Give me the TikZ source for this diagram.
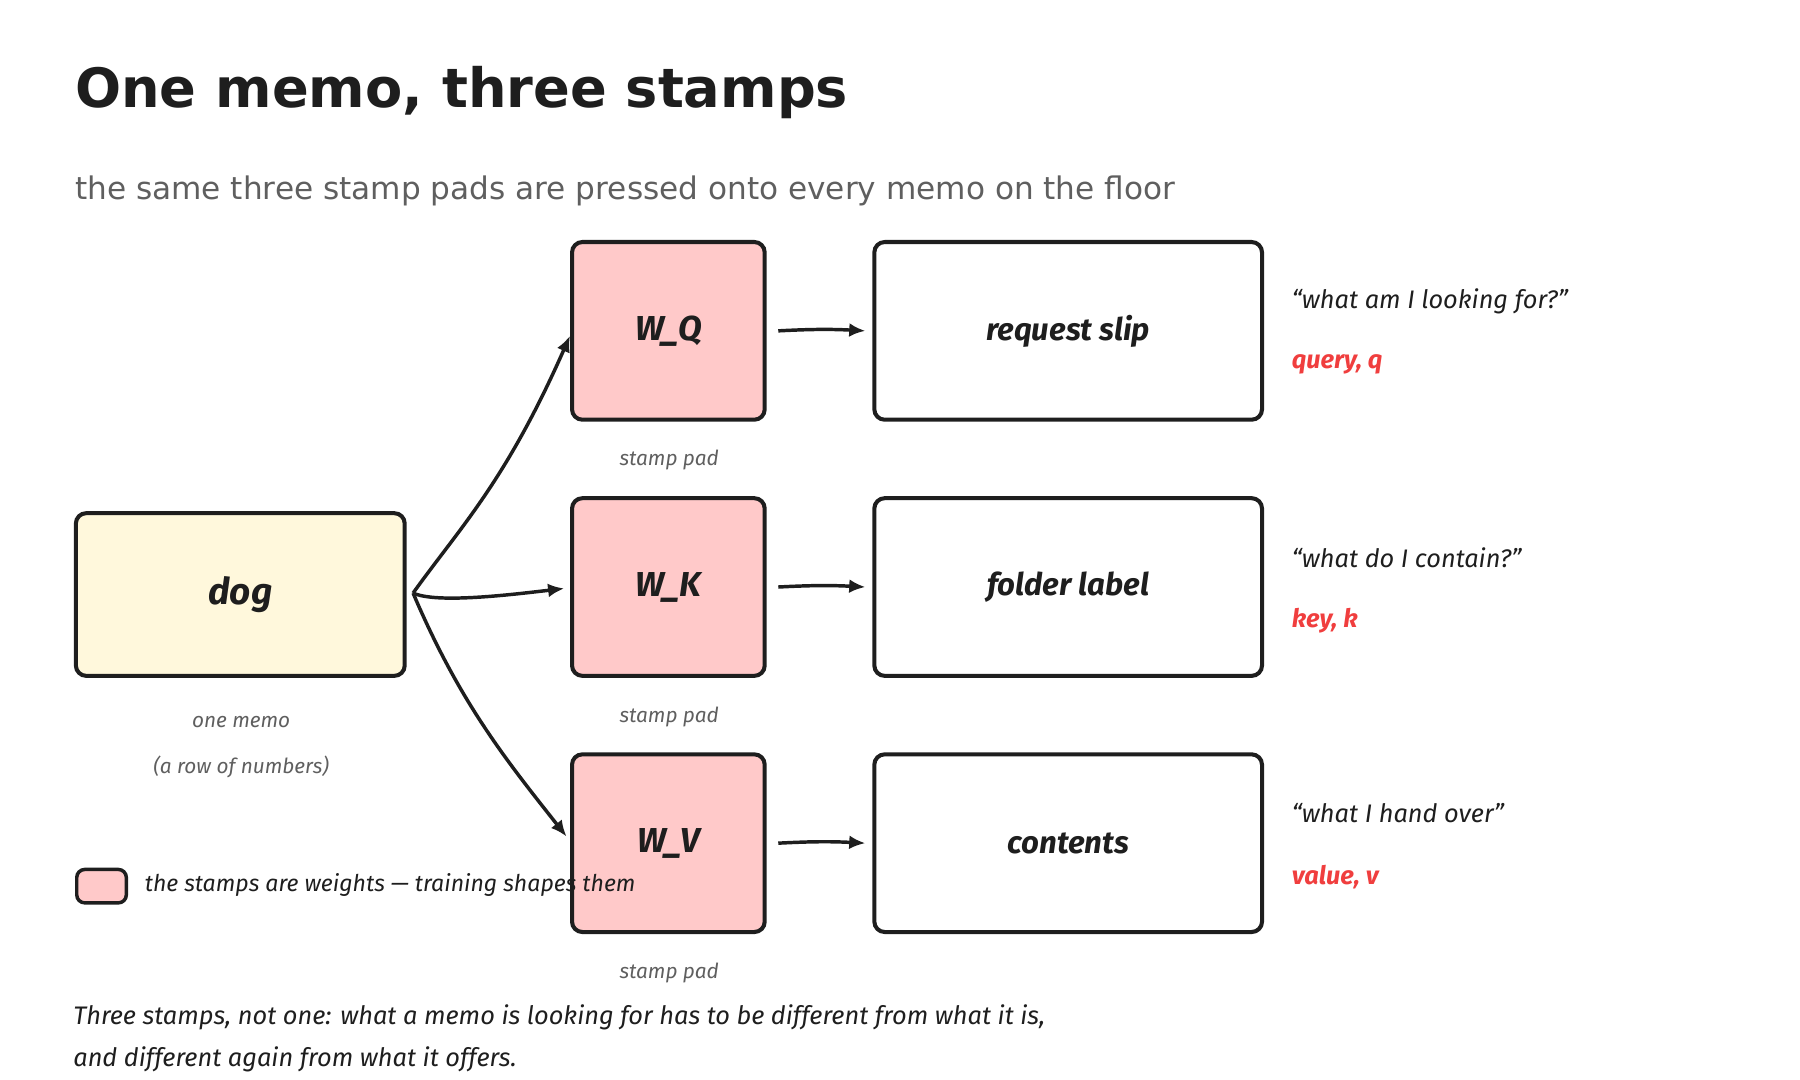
\documentclass[tikz,border=0pt]{standalone}
\usepackage{fontspec}
\setmainfont{DejaVu Sans}
\newfontfamily\hand{Fira Sans}
\usetikzlibrary{arrows.meta}
\definecolor{ink}{HTML}{1E1E1E}
\definecolor{memo}{HTML}{FFF8DC}
\definecolor{pad}{HTML}{FFC9C9}
\definecolor{redl}{HTML}{F03E3E}
\definecolor{grayt}{HTML}{5F5F5F}
\tikzset{
 box/.style={draw=ink,line width=3.5pt,rounded corners=9pt,anchor=north west,inner sep=0pt},
 lab/.style={font=\hand\bfseries\itshape\fontsize{27}{30}\selectfont,text=ink},
 small/.style={font=\hand\itshape\fontsize{18}{22}\selectfont,text=grayt},
 note/.style={font=\hand\itshape\fontsize{22}{26}\selectfont,text=ink,anchor=west},
 red/.style={font=\hand\bfseries\itshape\fontsize{22}{26}\selectfont,text=redl,anchor=west},
 arr/.style={draw=ink,line width=3pt,-{Latex[length=14pt,width=12pt]}}
}
\begin{document}
\begin{tikzpicture}[x=1pt,y=-1pt]
\useasboundingbox (0,0) rectangle (1560,936);
\node[anchor=base west,font=\bfseries\fontsize{47}{56}\selectfont,text=ink,inner sep=0pt] (title) at (65,93) {One memo, three stamps};
\node[anchor=base west,font=\fontsize{27}{30}\selectfont,text=grayt,inner sep=0pt] (sub) at (65,173) {the same three stamp pads are pressed onto every memo on the floor};

\node[box,fill=memo,minimum width=285pt,minimum height=141pt] (dog) at (64,443) {};
\node[lab,font=\hand\bfseries\itshape\fontsize{32}{36}\selectfont] at (dog.center) {dog};
\node[small] (m1) at (209,626) {one memo};
\node[small] (m2) at (209,665) {(a row of numbers)};

\foreach \n/\y/\w/\o/\q/\r in {q/209/W\_Q/request slip/“what am I looking for?”/{query, q},
  k/431/W\_K/folder label/“what do I contain?”/{key, k},
  v/653/W\_V/contents/“what I hand over”/{value, v}}{
  \node[box,fill=pad,minimum width=167pt,minimum height=154pt] (s\n) at (494,\y-1) {};
  \node[lab,font=\hand\bfseries\itshape\fontsize{30}{34}\selectfont] at (s\n.center) {\w};
  \node[small] (sp\n) at (580,\y+190) {stamp pad};
  \node[box,fill=white,minimum width=336pt,minimum height=154pt] (o\n) at (756,\y-1) {};
  \node[lab] at (o\n.center) {\o};
  \node[note] (qt\n) at (1116,\y+52) {\q};
  \node[red] (rd\n) at (1116,\y+107) {\r};
  \draw[arr] ([xshift=10pt]s\n.east) to[bend left=3] ([xshift=-6pt]o\n.west);
}
\coordinate (d0) at (358,514);
\draw[arr] (d0) .. controls (398,458) and (438,418) .. (494,291);
\draw[arr] (d0) .. controls (378,523) and (438,516) .. (489,510);
\draw[arr] (d0) .. controls (398,608) and (438,658) .. (491,725);

\node[box,fill=pad,line width=3pt,rounded corners=7pt,minimum width=43pt,minimum height=29pt] (leg) at (65,752) {};
\node[note,font=\hand\itshape\fontsize{20}{24}\selectfont] (legt) at (122,767) {the stamps are weights — training shapes them};

\node[note] (f1) at (60,882) {Three stamps, not one: what a memo is looking for has to be different from what it is,};
\node[note] (f2) at (60,918) {and different again from what it offers.};
\end{tikzpicture}
\end{document}
